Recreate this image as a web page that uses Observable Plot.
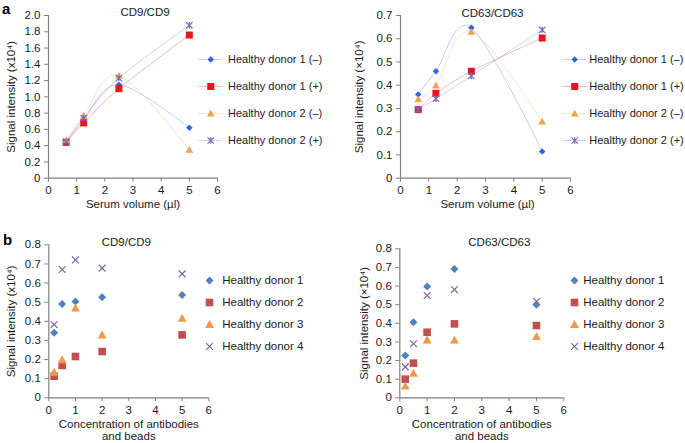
<!DOCTYPE html>
<html>
<head>
<meta charset="utf-8">
<script src="https://cdn.jsdelivr.net/npm/d3@7"></script>
<script src="https://cdn.jsdelivr.net/npm/@observablehq/plot@0.6"></script>
<style>
  html, body { margin: 0; padding: 0; background: #fff; }
  #root { position: relative; width: 685px; height: 443px; overflow: hidden; font-family: "Liberation Sans", Arial, Helvetica, sans-serif; }
  #root > svg { position: absolute; }
  .plabel { position: absolute; font-weight: bold; font-size: 15px; line-height: 15px; color: #000; }
</style>
</head>
<body>
<div id="root">
  <div class="plabel" style="left:2px;top:1px;">a</div>
  <div class="plabel" style="left:3px;top:232px;">b</div>
</div>
<script>
// ---------- data ----------
const serumVolume = [0.625, 1.25, 2.5, 5];
const serumSeries = ["Healthy donor 1 (–)", "Healthy donor 1 (+)", "Healthy donor 2 (–)", "Healthy donor 2 (+)"];
const cd9Serum = [
  [0.44, 0.72, 1.15, 0.62],
  [0.44, 0.68, 1.10, 1.76],
  [0.47, 0.77, 1.26, 0.35],
  [0.45, 0.74, 1.23, 1.88]
];
const cd63Serum = [
  [0.36, 0.46, 0.647, 0.115],
  [0.295, 0.365, 0.46, 0.603],
  [0.34, 0.40, 0.63, 0.244],
  [0.295, 0.342, 0.44, 0.638]
];
const concentration = [0.2, 0.5, 1, 2, 5];
const concSeries = ["Healthy donor 1", "Healthy donor 2", "Healthy donor 3", "Healthy donor 4"];
const cd9Conc = [
  [0.34, 0.49, 0.503, 0.526, 0.537],
  [0.113, 0.169, 0.216, 0.242, 0.329],
  [0.134, 0.199, 0.469, 0.329, 0.416],
  [0.383, 0.671, 0.721, 0.678, 0.648]
];
const cd63Conc = [
  [0.227, 0.406, 0.597, 0.692, 0.50],
  [0.10, 0.186, 0.352, 0.397, 0.388],
  [0.063, 0.132, 0.311, 0.311, 0.329],
  [0.166, 0.29, 0.549, 0.581, 0.517]
];
const xTicks = [0, 1, 2, 3, 4, 5, 6];
const yTicksA1 = [0, 0.2, 0.4, 0.6, 0.8, 1.0, 1.2, 1.4, 1.6, 1.8, 2.0];
const yTicksA2 = [0, 0.1, 0.2, 0.3, 0.4, 0.5, 0.6, 0.7];
const yTicksB = [0, 0.1, 0.2, 0.3, 0.4, 0.5, 0.6, 0.7, 0.8];

// ---------- styles ----------
const FONT = '"Liberation Sans", Arial, Helvetica, sans-serif';
const FS = 11.5;
const colorsA = ["#2f5ff0", "#e8161c", "#f2a24e", "#7b68b8"];
const colorsB = ["#4f81bd", "#c0504d", "#f79646", "#8064a2"];

// custom symbols: r option == half extent
const half = size => Math.sqrt(size / Math.PI);
const symDiamond = { draw(c, s) { const r = half(s); c.moveTo(0, -r); c.lineTo(r, 0); c.lineTo(0, r); c.lineTo(-r, 0); c.closePath(); } };
const symSquare = { draw(c, s) { const r = half(s); c.rect(-r, -r, 2 * r, 2 * r); } };
const symTriangle = { draw(c, s) { const r = half(s); c.moveTo(0, -r); c.lineTo(r, r * 0.8); c.lineTo(-r, r * 0.8); c.closePath(); } };
const symStar = { draw(c, s) { const r = half(s); c.moveTo(-r, -r); c.lineTo(r, r); c.moveTo(-r, r); c.lineTo(r, -r); c.moveTo(0, -r); c.lineTo(0, r); } };
const symTimes = { draw(c, s) { const r = half(s); c.moveTo(-r, -r); c.lineTo(r, r); c.moveTo(-r, r); c.lineTo(r, -r); } };

const symbolsA = [
  {symbol: symDiamond, r: 3.2, filled: true},
  {symbol: symSquare, r: 3.5, filled: true},
  {symbol: symTriangle, r: 3.8, filled: true},
  {symbol: symStar, r: 3.2, filled: false}
];
const symbolsB = [
  {symbol: symDiamond, r: 4.0, filled: true},
  {symbol: symSquare, r: 3.8, filled: true},
  {symbol: symTriangle, r: 4.4, filled: true},
  {symbol: symTimes, r: 3.4, filled: false}
];

const root = document.getElementById("root");
const fmtY = d => d === 0 ? "0" : d3.format(".1f")(d);

function dotMark(data, sym, color) {
  return Plot.dot(data, {
    x: "x", y: "y", r: sym.r, symbol: sym.symbol,
    fill: sym.filled ? color : "none",
    stroke: sym.filled ? "none" : color,
    strokeWidth: 1.2
  });
}

function panel(cfg) {
  const marks = [];
  cfg.values.forEach((vals, i) => {
    const data = cfg.xs.map((x, j) => ({x, y: vals[j]}));
    if (cfg.lines) {
      marks.push(Plot.line(data, {x: "x", y: "y", curve: "cardinal", stroke: cfg.colors[i], strokeOpacity: 0.3, strokeWidth: 1}));
    }
  });
  cfg.values.forEach((vals, i) => {
    const data = cfg.xs.map((x, j) => ({x, y: vals[j]}));
    marks.push(dotMark(data, cfg.symbols[i], cfg.colors[i]));
  });
  const chart = Plot.plot({
    width: cfg.width, height: cfg.height,
    marginLeft: cfg.ml, marginRight: cfg.mr, marginTop: cfg.mt, marginBottom: cfg.mb,
    style: {fontFamily: FONT, fontSize: FS + "px", color: "#1a1a1a", background: "transparent", overflow: "visible"},
    x: {domain: [0, 6], nice: false},
    y: {domain: [0, cfg.yMax], nice: false},
    marks: [
      Plot.axisX({ticks: xTicks, tickFormat: d => String(d), tickSize: 4, tickPadding: 4, stroke: "#808080", fill: "#1a1a1a", label: null, fontSize: FS}),
      Plot.axisY({ticks: cfg.yTicks, tickFormat: fmtY, tickSize: 4, tickPadding: 4, stroke: "#808080", fill: "#1a1a1a", label: null, fontSize: FS}),
      Plot.ruleX([0], {stroke: "#808080", strokeWidth: 1.2}),
      Plot.ruleY([0], {stroke: "#808080", strokeWidth: 1.2}),
      ...marks,
      Plot.text([cfg.title], {text: d => d, frameAnchor: "top", dx: cfg.titleDx, dy: cfg.titleDy, lineAnchor: "middle", fontSize: FS, fill: "#1a1a1a"}),
      Plot.text([cfg.xLabel], {text: d => d, frameAnchor: "bottom", dx: cfg.xLabelDx, dy: cfg.xLabelDy, lineAnchor: "middle", lineHeight: 1.1, fontSize: FS, fill: "#1a1a1a"}),
      Plot.text([cfg.yLabel], {text: d => d, frameAnchor: "left", dx: cfg.yLabelDx, rotate: -90, lineAnchor: "middle", textAnchor: "middle", fontSize: FS, fill: "#1a1a1a"})
    ]
  });
  chart.style.left = cfg.left + "px";
  chart.style.top = cfg.top + "px";
  root.appendChild(chart);

  // legend
  const lg = cfg.legend;
  const lmarks = [];
  cfg.names.forEach((name, i) => {
    const row = [{x: 0.5, y: name}];
    if (cfg.lines) {
      lmarks.push(Plot.ruleY([name], {y: d => d, x1: 0, x2: 1, stroke: cfg.colors[i], strokeOpacity: 0.3, strokeWidth: 1}));
    }
    lmarks.push(dotMark(row, cfg.symbols[i], cfg.colors[i]));
    lmarks.push(Plot.text([name], {text: d => d, x: 1, y: d => d, dx: lg.textDx, textAnchor: "start", lineAnchor: "middle", fontSize: lg.fontSize, fill: "#1a1a1a"}));
  });
  const legend = Plot.plot({
    width: cfg.width, height: cfg.height,
    margin: 0,
    style: {fontFamily: FONT, fontSize: lg.fontSize + "px", color: "#1a1a1a", background: "transparent", overflow: "visible", pointerEvents: "none"},
    x: {domain: [0, 1], range: lg.xRange, axis: null},
    y: {type: "point", domain: cfg.names, range: lg.yRange, padding: 0, axis: null},
    marks: lmarks
  });
  legend.style.left = cfg.left + "px";
  legend.style.top = cfg.top + "px";
  root.appendChild(legend);
}

panel({
  left: 0, top: 0, width: 343, height: 222, ml: 48, mr: 126, mt: 15, mb: 44.3,
  yMax: 2.0, yTicks: yTicksA1, xs: serumVolume, values: cd9Serum, names: serumSeries,
  colors: colorsA, symbols: symbolsA, lines: true,
  title: "CD9/CD9", titleDx: 12, titleDy: -3.5,
  xLabel: "Serum volume (µl)", xLabelDx: 0, xLabelDy: 25.8,
  yLabel: "Signal intensity (x10⁴)", yLabelDx: -37,
  legend: {xRange: [198.5, 222], yRange: [58.8, 140.7], textDx: 5.5, fontSize: 11}
});
panel({
  left: 343, top: 0, width: 342, height: 222, ml: 57, mr: 115, mt: 15, mb: 44.3,
  yMax: 0.7, yTicks: yTicksA2, xs: serumVolume, values: cd63Serum, names: serumSeries,
  colors: colorsA, symbols: symbolsA, lines: true,
  title: "CD63/CD63", titleDx: 7, titleDy: -2.5,
  xLabel: "Serum volume (µl)", xLabelDx: 2, xLabelDy: 25.8,
  yLabel: "Signal intensity (×10⁴)", yLabelDx: -41,
  legend: {xRange: [219.2, 243.2], yRange: [59.3, 140.7], textDx: 2.6, fontSize: 11}
});
panel({
  left: 0, top: 222, width: 343, height: 221, ml: 48.3, mr: 134.7, mt: 22.3, mb: 45.7,
  yMax: 0.8, yTicks: yTicksB, xs: concentration, values: cd9Conc, names: concSeries,
  colors: colorsB, symbols: symbolsB, lines: false,
  title: "CD9/CD9", titleDx: -2.5, titleDy: -2.6,
  xLabel: "Concentration of antibodies\nand beads", xLabelDx: 0, xLabelDy: 32,
  yLabel: "Signal intensity (x10⁴)", yLabelDx: -37.5,
  legend: {xRange: [203, 215], yRange: [58, 124.7], textDx: 6.7, fontSize: FS}
});
panel({
  left: 343, top: 222, width: 342, height: 221, ml: 56.3, mr: 121.7, mt: 26.3, mb: 45.7,
  yMax: 0.8, yTicks: yTicksB, xs: concentration, values: cd63Conc, names: concSeries,
  colors: colorsB, symbols: symbolsB, lines: false,
  title: "CD63/CD63", titleDx: 17.5, titleDy: -6.6,
  xLabel: "Concentration of antibodies\nand beads", xLabelDx: 0, xLabelDy: 32,
  yLabel: "Signal intensity (×10⁴)", yLabelDx: -35.5,
  legend: {xRange: [225, 237], yRange: [57.3, 124.7], textDx: 2.7, fontSize: FS}
});
</script>
</body>
</html>
